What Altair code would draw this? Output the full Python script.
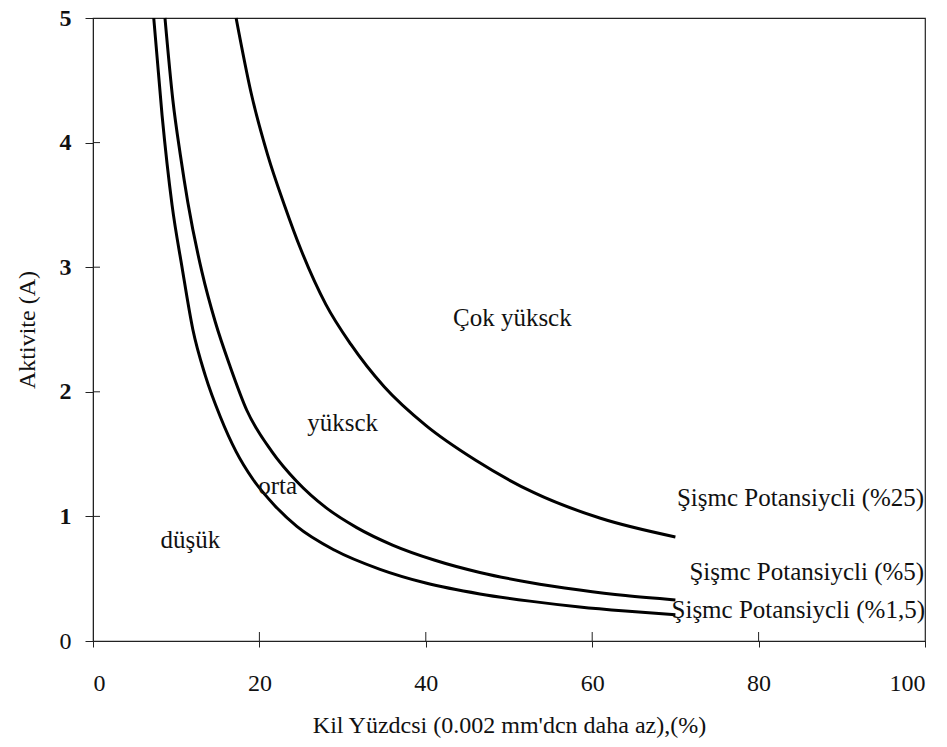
import altair as alt
import pandas as pd

# Curves: clay percentage (x) vs activity (y)
low_x = [7.3, 8.3, 9.5, 10.7, 12.0, 13.5, 15.3, 17.2, 19.2, 21.8, 24.5, 29.0, 34.5, 40.0, 46.5, 52.5, 58.5, 64.0, 70.0]
low_y = [5.0, 4.22, 3.50, 3.00, 2.50, 2.13, 1.80, 1.52, 1.30, 1.09, 0.92, 0.73, 0.575, 0.465, 0.378, 0.32, 0.273, 0.24, 0.21]

mid_x = [8.65, 9.6, 10.5, 11.4, 13.1, 14.7, 16.5, 18.5, 21.5, 24.5, 28.0, 31.7, 36.0, 41.0, 46.5, 52.5, 58.5, 64.0, 70.0]
mid_y = [5.0, 4.34, 3.90, 3.52, 2.96, 2.56, 2.20, 1.85, 1.52, 1.28, 1.07, 0.91, 0.77, 0.65, 0.55, 0.47, 0.41, 0.365, 0.33]

high_x = [17.2, 19.0, 21.0, 23.0, 25.0, 28.0, 31.0, 35.0, 40.0, 46.0, 53.0, 61.0, 70.0]
high_y = [5.0, 4.40, 3.90, 3.50, 3.14, 2.70, 2.38, 2.04, 1.73, 1.45, 1.19, 0.985, 0.835]

series_names = ["%1,5", "%5", "%25"]

# Region and curve labels
region_text = ["Çok yüksck", "yüksck", "orta", "düşük"]
region_x = [50.4, 30.0, 22.2, 11.7]
region_y = [2.59, 1.75, 1.24, 0.81]

curve_text = ["Şişmc Potansiycli (%25)", "Şişmc Potansiycli (%5)", "Şişmc Potansiycli (%1,5)"]
curve_x = [99.9, 99.9, 100.0]
curve_y = [1.15, 0.55, 0.25]

x_ticks = [0, 20, 40, 60, 80, 100]
y_ticks = [0, 1, 2, 3, 4, 5]

rows = []
for name, xs, ys in zip(series_names, [low_x, mid_x, high_x], [low_y, mid_y, high_y]):
    for i, (a, b) in enumerate(zip(xs, ys)):
        rows.append({"series": name, "x": a, "y": b, "order": i})
curves = pd.DataFrame(rows)

regions = pd.DataFrame({"t": region_text, "x": region_x, "y": region_y})
clabels = pd.DataFrame({"t": curve_text, "x": curve_x, "y": curve_y})
xt = pd.DataFrame({"v": x_ticks[1:-1]})
yt = pd.DataFrame({"v": y_ticks[1:-1]})

W, H = 832, 623
FONT = "Liberation Serif"

xscale = alt.Scale(domain=[0, 100], nice=False)
yscale = alt.Scale(domain=[0, 5], nice=False)

x_axis = alt.Axis(
    values=x_ticks, format="d", title="Kil Yüzdcsi (0.002 mm'dcn daha az),(%)", grid=False,
    tickSize=6, labelPadding=24, labelFontSize=24, labelFont=FONT,
    titleFont=FONT, titleFontSize=24, titleFontWeight="normal", titlePadding=18,
    domainColor="#222", tickColor="#222", labelColor="#111", titleColor="#111",
)
y_axis = alt.Axis(
    values=y_ticks, format="d", title="Aktivite (A)", grid=False,
    tickSize=8, labelPadding=14, labelFontSize=24, labelFont=FONT,
    labelFontWeight={"condition": {"test": "datum.value == 0", "value": "normal"}, "value": "bold"},
    titleFont=FONT, titleFontSize=24, titleFontWeight="normal", titlePadding=20,
    domainColor="#222", tickColor="#222", labelColor="#111", titleColor="#111",
)

lines = alt.Chart(curves).mark_line(color="black", strokeWidth=3, interpolate="monotone").encode(
    x=alt.X("x:Q", scale=xscale, axis=x_axis),
    y=alt.Y("y:Q", scale=yscale, axis=y_axis),
    detail="series:N",
    order="order:Q",
)

reg = alt.Chart(regions).mark_text(font=FONT, fontSize=25, color="#111").encode(
    x="x:Q", y="y:Q", text="t:N"
)

cl = alt.Chart(clabels).mark_text(font=FONT, fontSize=25, color="#111", align="right").encode(
    x="x:Q", y="y:Q", text="t:N"
)

xin = alt.Chart(xt).mark_rule(color="#222", strokeWidth=1).encode(
    x="v:Q", y=alt.value(H), y2=alt.value(H - 9)
)
yin = alt.Chart(yt).mark_rule(color="#222", strokeWidth=1).encode(
    y="v:Q", x=alt.value(0), x2=alt.value(7)
)

chart = alt.layer(lines, xin, yin, reg, cl).properties(
    width=W, height=H,
    autosize=alt.AutoSizeParams(type="none"),
    padding={"left": 93, "top": 18, "right": 22, "bottom": 106},
    background="white",
).configure_view(stroke="#222", strokeWidth=1.2)

chart.save("out.html", embed_options={"renderer": "svg", "actions": False})
